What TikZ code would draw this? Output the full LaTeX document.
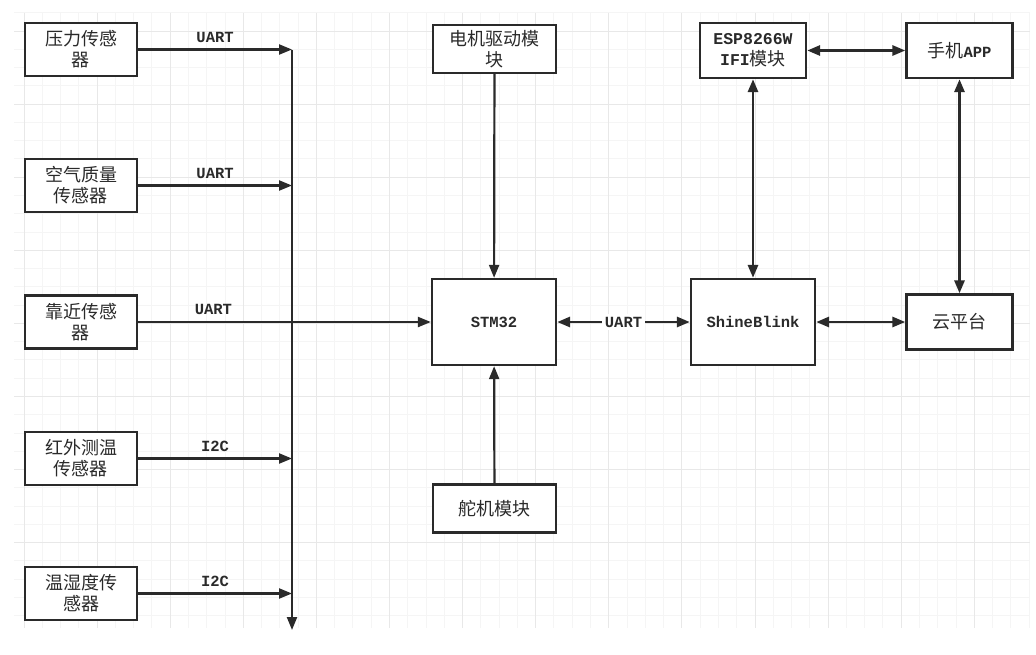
\documentclass[tikz,border=0pt]{standalone}
\usepackage{fontspec}
\setmainfont{Liberation Serif}
\setmonofont{Liberation Mono}
\newfontfamily\cjk{Noto Sans CJK SC}
\usetikzlibrary{positioning,arrows.meta}
\newcommand{\enfont}{\ttfamily\bfseries\fontsize{15.5}{21}\selectfont}
\newcommand{\en}[1]{{\enfont #1}}
\definecolor{ink}{HTML}{2A2A2A}
\tikzset{
  flowarrow/.style={-{Triangle[length=13pt, width=10pt]}, line width=2.2pt, draw=ink},
  duplex/.style={{Triangle[length=13pt, width=10pt]}-{Triangle[length=13pt, width=10pt]}, line width=2.8pt, draw=ink},
  busline/.style={-{Triangle[length=13pt, width=10pt]}, line width=2.2pt, draw=ink},
  sensorbox/.style={draw=ink, line width=2.3pt, fill=white, minimum width=112pt, minimum height=53pt, align=center, inner sep=1pt},
  modbox/.style={draw=ink, line width=2.3pt, fill=white, minimum width=123pt, minimum height=48pt, align=center, inner sep=1pt},
  corebox/.style={draw=ink, line width=2.3pt, fill=white, minimum width=124pt, minimum height=86pt, align=center},
  netbox/.style={draw=ink, line width=2.3pt, fill=white, minimum width=106pt, minimum height=55pt, align=center, inner sep=1pt},
  buslabel/.style={font=\enfont, text=ink, inner sep=1pt},
  gridminor/.style={draw=gray!8, line width=1pt},
  gridmajor/.style={draw=gray!18, line width=1pt}
}

\begin{document}
\begin{tikzpicture}[x=1pt, y=-1pt, every node/.style={font=\cjk\fontsize{18}{21}\selectfont, text=ink}]
  \useasboundingbox[fill=white] (0,0) rectangle (1036,654);
  % background grid
  \foreach \k in {0,...,55} \draw[gridminor] ({24+18.275*\k},12.7) -- ({24+18.275*\k},628);
  \foreach \k in {-1,...,32} \draw[gridminor] (14,{31+18.275*\k}) -- (1030,{31+18.275*\k});
  \foreach \k in {0,...,13} \draw[gridmajor] ({24+73.1*\k},12.7) -- ({24+73.1*\k},628);
  \foreach \k in {0,...,7} \draw[gridmajor] (14,{31+73.1*\k}) -- (1030,{31+73.1*\k});

  % sensors
  \node[sensorbox] (press) at (81,49.5) {压力传感\\器};
  \node[sensorbox] (air) at (81,185.5) {空气质量\\传感器};
  \node[sensorbox] (near) at (81,322) {靠近传感\\器};
  \node[sensorbox] (infra) at (81,458.5) {红外测温\\传感器};
  \node[sensorbox] (humid) at (81,593.5) {温湿度传\\感器};

  % bus
  \coordinate (bus1) at (292,49.5);
  \coordinate (bus2) at (292,185.5);
  \coordinate (bus4) at (292,458.5);
  \coordinate (bus5) at (292,593.5);
  \coordinate (busend) at (292,630);

  % modules
  \node[modbox] (motor) at (494.5,49) {电机驱动模\\块};
  \node[corebox] (stm) at (494,322) {\en{STM32}};
  \node[modbox] (servo) at (494.5,508.5) {舵机模块};
  \node[corebox] (shine) at (753,322) {\en{ShineBlink}};
  \node[netbox] (esp) at (753,50.5) {{\ttfamily\bfseries\fontsize{16.5}{21}\selectfont ESP8266W}\\{\ttfamily\bfseries\fontsize{16.5}{21}\selectfont IFI}模块};
  \node[netbox] (app) at (959.5,50.5) {手机\en{APP}};
  \node[netbox] (cloud) at (959.5,322) {云平台};

  \draw[flowarrow] (press) -- node[buslabel, above=5pt] {UART} (bus1);
  \draw[flowarrow] (air) -- node[buslabel, above=5pt] {UART} (bus2);
  \draw[flowarrow] (infra) -- node[buslabel, above=5pt] {I2C} (bus4);
  \draw[flowarrow] (humid) -- node[buslabel, above=5pt] {I2C} (bus5);
  \draw[busline] (bus1) -- (busend);
  \draw[flowarrow] (near) -- node[buslabel, above=5pt, pos=0.257] {UART} (stm);

  \draw[flowarrow] (motor) -- (stm);
  \draw[flowarrow] (servo) -- (stm);
  \draw[duplex] (stm) -- node[buslabel, fill=white, inner sep=3pt] {UART} (shine);
  \draw[duplex] (shine) -- (esp);
  \draw[duplex] (esp) -- (app);
  \draw[duplex] (shine) -- (cloud);
  \draw[duplex] (app) -- (cloud);
\end{tikzpicture}
\end{document}
